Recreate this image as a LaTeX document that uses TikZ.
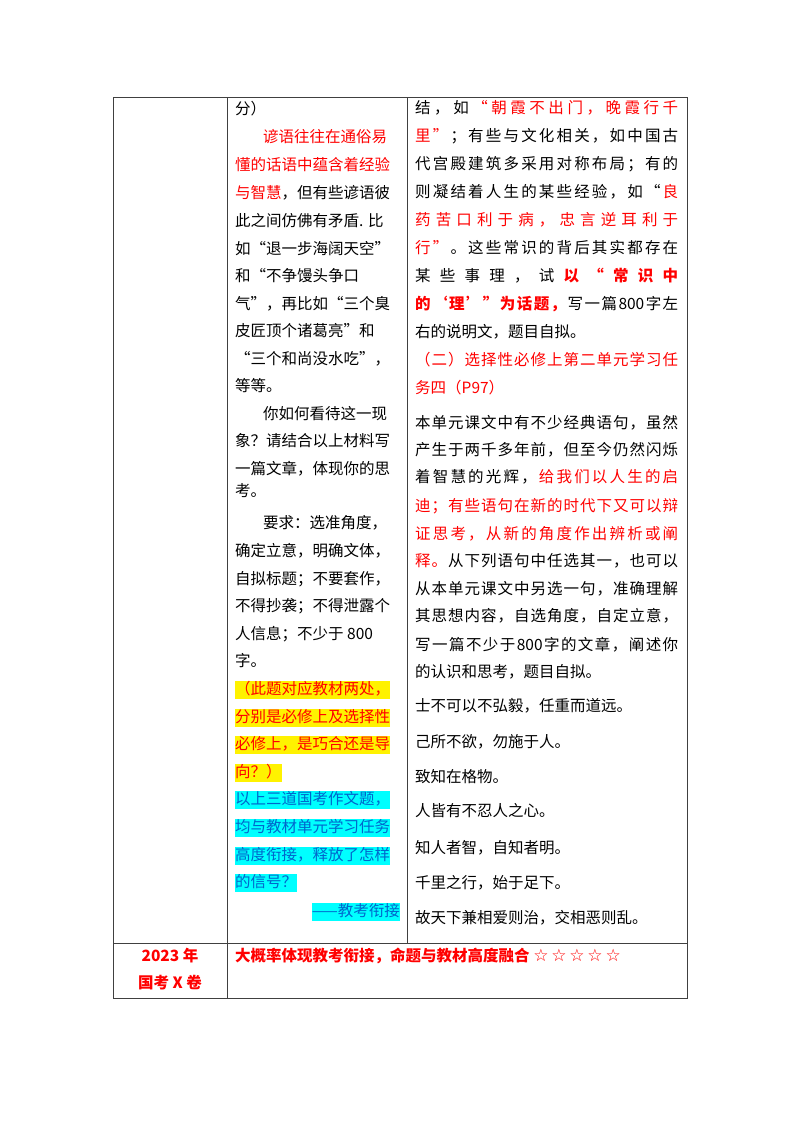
\documentclass[tikz,border=0pt]{standalone}
\usepackage{fontspec}
\setmainfont{Noto Sans CJK SC}
\newfontfamily\symf{DejaVu Sans}
\definecolor{myred}{RGB}{255,0,0}
\definecolor{hlblue}{RGB}{0,102,204}
\definecolor{hlcyan}{RGB}{0,255,255}
\def\SP#1{\ifx\relax#1\else\hskip 0pt plus 1fil #1\expandafter\SP\fi}
\newcommand{\R}[1]{\textcolor{myred}{\SP#1\relax}}
\newcommand{\RB}[1]{\textcolor{myred}{\bfseries\SP#1\relax}}
\newcommand{\K}[1]{\SP#1\relax}
\newcommand{\J}[1]{\hbox to 263pt{\hskip 0pt plus -1fil #1}}
\begin{document}
\begin{tikzpicture}[x=1pt,y=-1pt,
  tl/.style={anchor=base west,inner sep=0pt,font=\fontsize{15.5pt}{16pt}\selectfont},
  hy/.style={tl,fill=yellow,inner ysep=1.5pt,text=myred,text height=12pt,text depth=3.5pt},
  hc/.style={tl,fill=hlcyan,inner ysep=1.5pt,text=hlblue,text height=12pt,text depth=3.5pt},
  grid/.style={line width=0.8pt,draw=black!75}]
\useasboundingbox (0,0) rectangle (800,1132);
% table
\coordinate (tl) at (113,97); \coordinate (tr) at (687,97);
\coordinate (ml) at (113,943); \coordinate (mr) at (687,943);
\coordinate (bl) at (113,998); \coordinate (br) at (687,998);
\coordinate (c1t) at (227,97); \coordinate (c1b) at (227,998);
\coordinate (c2t) at (407,97); \coordinate (c2b) at (407,943);
\draw[grid] (tl) -- (tr) -- (br) -- (bl) -- cycle;
\draw[grid] (ml) -- (mr);
\draw[grid] (c1t) -- (c1b);
\draw[grid] (c2t) -- (c2b);
% left column
\node[tl] (l0) at (235,114) {分）};
\node[tl] (l1) at (263,142) {\textcolor{myred}{谚语往往在通俗易}};
\node[tl] (l2) at (235,170) {\textcolor{myred}{懂的话语中蕴含着经验}};
\node[tl] (l3) at (235,198) {\textcolor{myred}{与智慧}，但有些谚语彼};
\node[tl] (l4) at (235,226) {此之间仿佛有矛盾. 比};
\node[tl] (l5) at (235,254) {如“退一步海阔天空”};
\node[tl] (l6) at (235,281) {和“不争馒头争口};
\node[tl] (l7) at (235,309) {气”，再比如“三个臭};
\node[tl] (l8) at (235,336) {皮匠顶个诸葛亮”和};
\node[tl] (l9) at (235,364) {“三个和尚没水吃”，};
\node[tl] (l10) at (235,391) {等等。};
\node[tl] (l11) at (263,419) {你如何看待这一现};
\node[tl] (l12) at (235,446) {象？请结合以上材料写};
\node[tl] (l13) at (235,474) {一篇文章，体现你的思};
\node[tl] (l14) at (235,496) {考。};
\node[tl] (l15) at (263,528) {要求：选准角度，};
\node[tl] (l16) at (235,556) {确定立意，明确文体，};
\node[tl] (l17) at (235,584) {自拟标题；不要套作，};
\node[tl] (l18) at (235,611) {不得抄袭；不得泄露个};
\node[tl] (l19) at (235,639) {人信息；不少于 800};
\node[tl] (l20) at (235,666) {字。};
\node[hy] (y1) at (235,694) {（此题对应教材两处，};
\node[hy] (y2) at (235,722) {分别是必修上及选择性};
\node[hy] (y3) at (235,749) {必修上，是巧合还是导};
\node[hy] (y4) at (235,777) {向？）};
\node[hc] (b1) at (235,804) {以上三道国考作文题，};
\node[hc] (b2) at (235,832) {均与教材单元学习任务};
\node[hc] (b3) at (235,860) {高度衔接，释放了怎样};
\node[hc] (b4) at (235,887) {的信号？};
\node[hc,anchor=base east] (b5) at (400,916) {——教考衔接};
% right column
\node[tl] (r1) at (415,113) {\J{\K{结，如}\R{“朝霞不出门，晚霞行千}}};
\node[tl] (r2) at (415,141) {\J{\R{里”}\K{；有些与文化相关，如中国古}}};
\node[tl] (r3) at (415,169) {\J{\K{代宫殿建筑多采用对称布局；有的}}};
\node[tl] (r4) at (415,197) {\J{\K{则凝结着人生的某些经验，如“}\R{良}}};
\node[tl] (r5) at (415,225) {\J{\R{药苦口利于病，忠言逆耳利于}}};
\node[tl] (r6) at (415,253) {\J{\R{行”}\K{。这些常识的背后其实都存在}}};
\node[tl] (r7) at (415,281) {\J{\K{某些事理，试}\RB{以“常识中}}};
\node[tl] (r8) at (415,309) {\J{\RB{的‘理’”为话题，}\K{写一篇{800}字左}}};
\node[tl] (r9) at (415,337) {右的说明文，题目自拟。};
\node[tl] (r10) at (415,365) {\J{\R{（二）选择性必修上第二单元学习任}}};
\node[tl] (r11) at (415,393) {\textcolor{myred}{务四（P97）}};
\node[tl] (r12) at (415,428) {\J{\K{本单元课文中有不少经典语句，虽然}}};
\node[tl] (r13) at (415,455) {\J{\K{产生于两千多年前，但至今仍然闪烁}}};
\node[tl] (r14) at (415,482) {\J{\K{着智慧的光辉，}\R{给我们以人生的启}}};
\node[tl] (r15) at (415,511) {\J{\R{迪；有些语句在新的时代下又可以辩}}};
\node[tl] (r16) at (415,539) {\J{\R{证思考，从新的角度作出辨析或阐}}};
\node[tl] (r17) at (415,566) {\J{\R{释。}\K{从下列语句中任选其一，也可以}}};
\node[tl] (r18) at (415,594) {\J{\K{从本单元课文中另选一句，准确理解}}};
\node[tl] (r19) at (415,621) {\J{\K{其思想内容，自选角度，自定立意，}}};
\node[tl] (r20) at (415,650) {\J{\K{写一篇不少于{800}字的文章，阐述你}}};
\node[tl] (r21) at (415,677) {的认识和思考，题目自拟。};
\node[tl] (q1) at (415,711) {士不可以不弘毅，任重而道远。};
\node[tl] (q2) at (415,747) {己所不欲，勿施于人。};
\node[tl] (q3) at (415,782) {致知在格物。};
\node[tl] (q4) at (415,816) {人皆有不忍人之心。};
\node[tl] (q5) at (415,853) {知人者智，自知者明。};
\node[tl] (q6) at (415,888) {千里之行，始于足下。};
\node[tl] (q7) at (415,923) {故天下兼相爱则治，交相恶则乱。};
% bottom row
\node[tl,anchor=base,text=myred,font=\fontsize{15.5pt}{16pt}\selectfont\bfseries] (y2023) at (170,961) {2023 年};
\node[tl,anchor=base,text=myred,font=\fontsize{15.5pt}{16pt}\selectfont\bfseries] (gk) at (170,988) {国考 X 卷};
\node[tl,text=myred,font=\fontsize{15.5pt}{16pt}\selectfont\bfseries] (sum) at (235,961) {大概率体现教考衔接，命题与教材高度融合 {\symf\mdseries\fontsize{17pt}{18pt}\selectfont ☆\,☆\,☆\,☆\,☆}};
\end{tikzpicture}
\end{document}
